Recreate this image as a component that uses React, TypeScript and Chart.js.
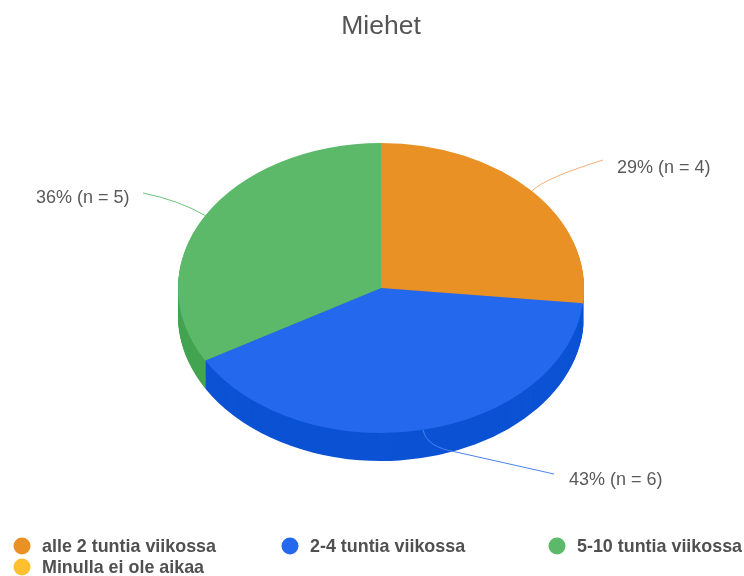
import React, { useEffect, useRef } from "react";
import { Chart, registerables } from "chart.js";

Chart.register(...registerables);

const title = "Miehet";
const categories = ["alle 2 tuntia viikossa", "2-4 tuntia viikossa", "5-10 tuntia viikossa", "Minulla ei ole aikaa"];
const counts = [4, 6, 5, 0];
const sliceLabels = ["29% (n = 4)", "43% (n = 6)", "36% (n = 5)", ""];
const topColors = ["#EA9126", "#2469ED", "#5CB96A", "#FFBF2E"];
const sideColors = ["#D98420", "#0B52D4", "#43A451", "#E0A520"];
const leaderColors = ["#F3AE78", "#4C82F0", "#6CC47B", "#FFD060"];

const TILT = 145 / 203;
const DEPTH = 28;
const CY = 288;

const pie3d = {
  id: "pie3d",
  beforeDatasetDraw(chart: any) {
    const { ctx } = chart;
    const arcs = chart.getDatasetMeta(0).data;
    ctx.save();
    for (let d = DEPTH; d >= 1; d--) {
      arcs.forEach((a: any, i: number) => {
        if (a.endAngle - a.startAngle <= 0) return;
        ctx.save();
        ctx.translate(0, CY + d);
        ctx.scale(1, TILT);
        ctx.translate(0, -CY);
        ctx.fillStyle = sideColors[i];
        ctx.beginPath();
        ctx.moveTo(a.x, a.y);
        ctx.arc(a.x, a.y, a.outerRadius, a.startAngle, a.endAngle);
        ctx.closePath();
        ctx.fill();
        ctx.restore();
      });
    }
    ctx.restore();
    ctx.save();
    ctx.translate(0, CY);
    ctx.scale(1, TILT);
    ctx.translate(0, -CY);
  },
  afterDatasetDraw(chart: any) {
    chart.ctx.restore();
  },
  afterDraw(chart: any) {
    const { ctx } = chart;
    const arcs = chart.getDatasetMeta(0).data;
    const rim = (a: any) => {
      const m = (a.startAngle + a.endAngle) / 2;
      return [a.x + a.outerRadius * Math.cos(m), CY + (a.y - CY + a.outerRadius * Math.sin(m)) * TILT];
    };
    // leader lines
    const leaders = [
      { c: [545, 178], e: [603, 160] },
      { c: [426, 447], m: [456, 452], e: [554, 474] },
      { c: [178, 200], e: [143, 193] },
    ];
    ctx.save();
    ctx.lineWidth = 1;
    leaders.forEach((l: any, i) => {
      const [x, y] = rim(arcs[i]);
      ctx.strokeStyle = leaderColors[i];
      ctx.beginPath();
      ctx.moveTo(x, y);
      if (l.m) {
        ctx.quadraticCurveTo(l.c[0], l.c[1], l.m[0], l.m[1]);
        ctx.lineTo(l.e[0], l.e[1]);
      } else {
        ctx.quadraticCurveTo(l.c[0], l.c[1], l.e[0], l.e[1]);
      }
      ctx.stroke();
    });
    // slice labels
    const labelPos = [[617, 168.5], [569, 480.5], [36, 198.5]];
    ctx.fillStyle = "#5a5a5a";
    ctx.font = "18px 'Liberation Sans', Arial, sans-serif";
    ctx.textBaseline = "middle";
    ctx.textAlign = "left";
    labelPos.forEach((p, i) => ctx.fillText(sliceLabels[i], p[0], p[1]));
    // legend
    const legendPos = [[22, 546], [290, 546], [557, 546], [22, 567]];
    ctx.font = "bold 17.9px 'Liberation Sans', Arial, sans-serif";
    categories.forEach((c, i) => {
      const [x, y] = legendPos[i];
      ctx.fillStyle = topColors[i];
      ctx.beginPath();
      ctx.arc(x, y, 8.5, 0, Math.PI * 2);
      ctx.fill();
      ctx.fillStyle = "#505050";
      ctx.fillText(c, x + 20, y + 1.5);
    });
    ctx.restore();
  },
};

export default function App() {
  const ref = useRef<HTMLCanvasElement>(null);
  useEffect(() => {
    const chart = new Chart(ref.current as HTMLCanvasElement, {
      type: "pie",
      data: {
        labels: categories,
        datasets: [{ data: counts, backgroundColor: topColors, borderWidth: 0, hoverOffset: 0, clip: false } as any],
      },
      options: {
        responsive: false,
        animation: false,
        layout: { padding: { left: 178, right: 160, top: 0, bottom: 51 } },
        plugins: {
          legend: { display: false },
          tooltip: { enabled: false },
          title: {
            display: true,
            text: title,
            fullSize: false,
            color: "#555555",
            font: { size: 26.5, weight: "normal", family: "'Liberation Sans', Arial, sans-serif", lineHeight: 1.2 },
            padding: { top: 11, bottom: 8.2 },
          },
        },
      },
      plugins: [pie3d],
    } as any);
    return () => chart.destroy();
  }, []);
  return (
    <div style={{ position: "absolute", left: 0, top: 0, width: 744, height: 576, background: "#fff" }}>
      <canvas ref={ref} width={744} height={576} style={{ display: "block", filter: "blur(0.5px)" }} />
    </div>
  );
}
